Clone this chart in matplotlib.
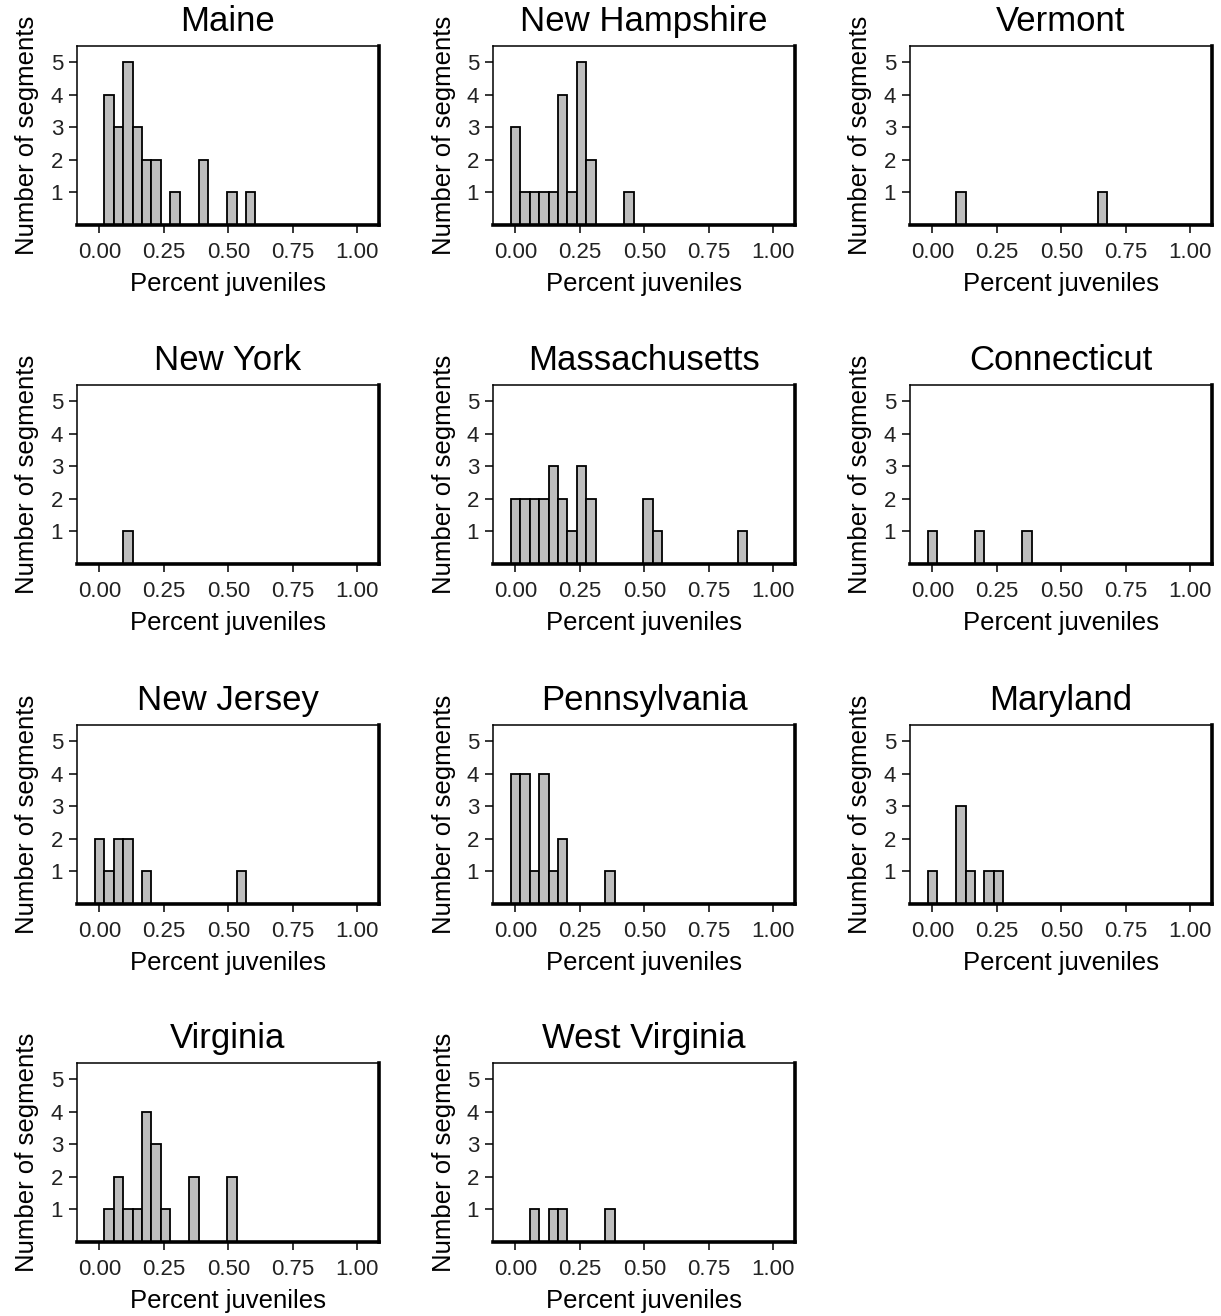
import numpy as np
import matplotlib.pyplot as plt

plt.rcParams['font.family'] = ['Liberation Sans', 'DejaVu Sans']

# histogram bin width (percent juveniles), bins centred on multiples of it
BIN = 0.0367

states = ["Maine", "New Hampshire", "Vermont",
          "New York", "Massachusetts", "Connecticut",
          "New Jersey", "Pennsylvania", "Maryland",
          "Virginia", "West Virginia"]

# bin index -> number of segments, one pair of lists per state
maine_bins = [1, 2, 3, 4, 5, 6, 8, 11, 14, 16]
maine_counts = [4, 3, 5, 3, 2, 2, 1, 2, 1, 1]
nh_bins = [0, 1, 2, 3, 4, 5, 6, 7, 8, 12]
nh_counts = [3, 1, 1, 1, 1, 4, 1, 5, 2, 1]
vt_bins = [3, 18]
vt_counts = [1, 1]
ny_bins = [3]
ny_counts = [1]
ma_bins = [0, 1, 2, 3, 4, 5, 6, 7, 8, 14, 15, 24]
ma_counts = [2, 2, 2, 2, 3, 2, 1, 3, 2, 2, 1, 1]
ct_bins = [0, 5, 10]
ct_counts = [1, 1, 1]
nj_bins = [0, 1, 2, 3, 5, 15]
nj_counts = [2, 1, 2, 2, 1, 1]
pa_bins = [0, 1, 2, 3, 4, 5, 10]
pa_counts = [4, 4, 1, 4, 1, 2, 1]
md_bins = [0, 3, 4, 6, 7]
md_counts = [1, 3, 1, 1, 1]
va_bins = [1, 2, 3, 4, 5, 6, 7, 10, 14]
va_counts = [1, 2, 1, 1, 4, 3, 1, 2, 2]
wv_bins = [2, 4, 5, 10]
wv_counts = [1, 1, 1, 1]

all_bins = [maine_bins, nh_bins, vt_bins, ny_bins, ma_bins, ct_bins,
            nj_bins, pa_bins, md_bins, va_bins, wv_bins]
all_counts = [maine_counts, nh_counts, vt_counts, ny_counts, ma_counts, ct_counts,
              nj_counts, pa_counts, md_counts, va_counts, wv_counts]

x_ticks = [0.0, 0.25, 0.5, 0.75, 1.0]
x_labels = ["0.00", "0.25", "0.50", "0.75", "1.00"]
y_ticks = [1, 2, 3, 4, 5]

W, H = 1221, 1316
fig = plt.figure(figsize=(W / 100, H / 100), dpi=100)

col_left = [77, 493, 910]
row_top = [46, 385, 725, 1063]
pw, ph = 302, 179

for i, (name, bins, counts) in enumerate(zip(states, all_bins, all_counts)):
    r, c = divmod(i, 3)
    ax = fig.add_axes([col_left[c] / W, 1 - (row_top[r] + ph) / H, pw / W, ph / H])
    ax.bar(np.array(bins) * BIN, counts, width=BIN, color='#bebebe',
           edgecolor='black', linewidth=1.3, align='center')
    ax.set_xlim(-0.087, 1.085)
    ax.set_ylim(0, 5.5)
    ax.set_xticks(x_ticks)
    ax.set_xticklabels(x_labels)
    ax.set_yticks(y_ticks)
    ax.tick_params(axis='both', direction='out', length=6, width=1.1,
                   labelsize=16, labelcolor='#222222')
    ax.tick_params(axis='x', pad=6)
    ax.tick_params(axis='y', pad=4)
    for side in ['top', 'left']:
        ax.spines[side].set_linewidth(1.1)
    for side in ['right', 'bottom']:
        ax.spines[side].set_linewidth(2.6)
    ax.set_title(name, fontsize=25, pad=11)
    ax.set_xlabel("Percent juveniles", fontsize=18.5, labelpad=7)
    ax.set_ylabel("Number of segments", fontsize=18.5, labelpad=8)

fig.savefig("out.png", dpi=100)
